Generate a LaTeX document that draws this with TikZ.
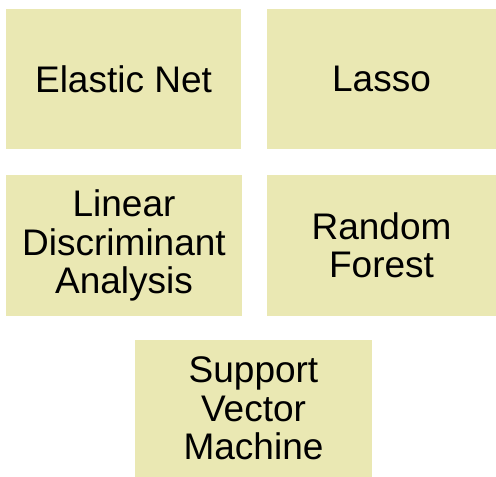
\documentclass[tikz,border=0pt]{standalone}
\usepackage{fontspec}
\setmainfont{Liberation Sans}
\definecolor{boxfill}{HTML}{EAE8B3}

\begin{document}
\begin{tikzpicture}
  [x=1pt,y=-1pt,every node/.style={rectangle, fill=boxfill, inner sep=0pt, align=center,
    minimum width=235pt, minimum height=140pt, font=\fontsize{37}{38.5}\selectfont}]
  \useasboundingbox (0,0) rectangle (496,477);
  \node (en)  at (123.5,79)  {Elastic Net};
  \node[minimum width=229pt] (las) at (381.5,79) {Lasso};
  \node[minimum width=236pt, minimum height=141pt] (lda) at (124,245.5) {Linear\\Discriminant\\Analysis};
  \node[minimum width=229pt, minimum height=141pt] (rf)  at (381.5,245.5) {Random\\Forest};
  \node[minimum width=237pt, minimum height=137pt] (svm) at (253.5,408.5) {Support\\Vector\\Machine};
\end{tikzpicture}
\end{document}
